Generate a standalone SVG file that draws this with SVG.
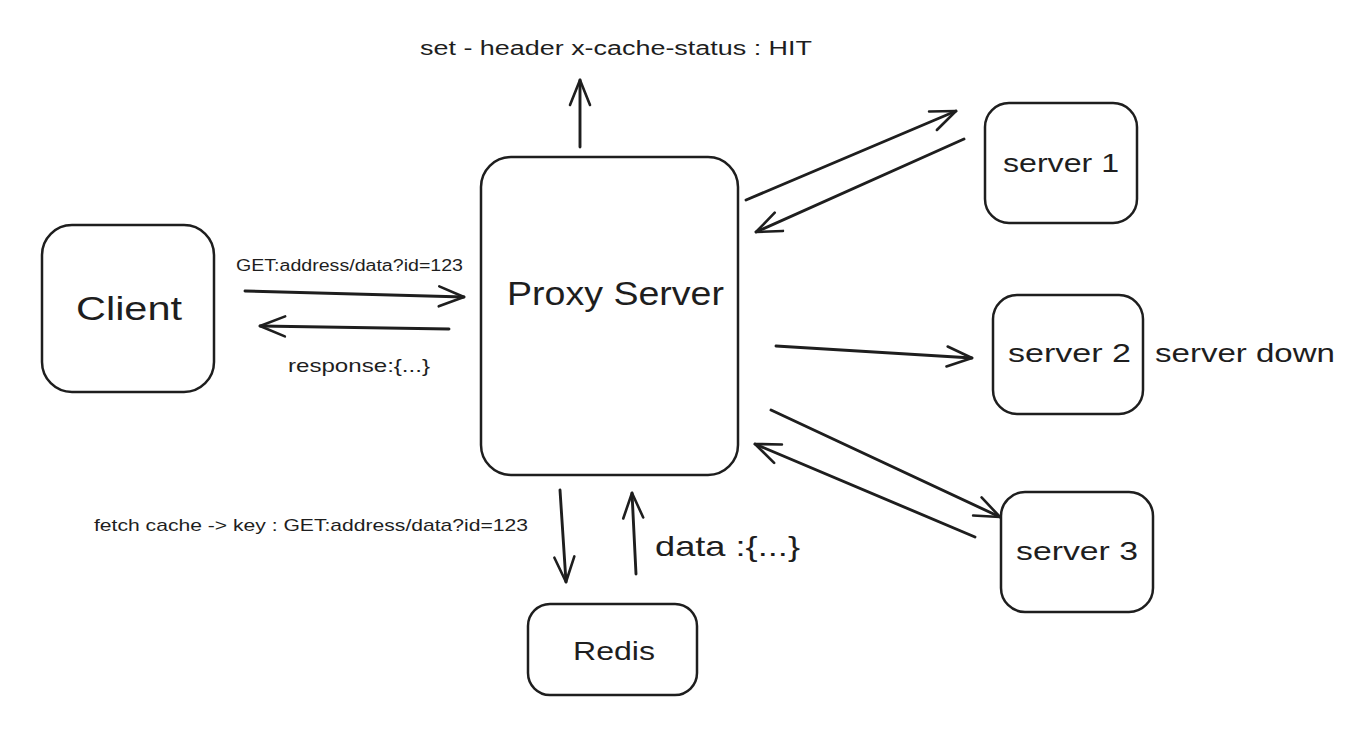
<svg xmlns="http://www.w3.org/2000/svg" width="1368" height="732" viewBox="0 0 1368 732">
<style>
.box{fill:#ffffff;stroke:#1e1e1e;stroke-width:2.5}
.lbl{font-family:"Liberation Sans","Noto Sans",sans-serif;fill:#1e1e1e}
.conn{fill:none;stroke:#1e1e1e;stroke-width:2.9;stroke-linecap:round}
</style>
<defs>
<marker id="arr" viewBox="-30 -15 34 30" refX="0" refY="0" markerWidth="34" markerHeight="30" markerUnits="userSpaceOnUse" orient="auto">
<path d="M -25 -10 L 0 0 L -25 10" fill="none" stroke="#1e1e1e" stroke-width="2.6" stroke-linecap="round" stroke-linejoin="round"/>
</marker>
</defs>
<rect width="1368" height="732" fill="#ffffff"/>

<g id="connectors">
<path class="conn" d="M 580 147 L 580 80" marker-end="url(#arr)"/>
<path class="conn" d="M 245 291 L 464 297" marker-end="url(#arr)"/>
<path class="conn" d="M 449 329 L 260 326" marker-end="url(#arr)"/>
<path class="conn" d="M 746 200 L 956 111" marker-end="url(#arr)"/>
<path class="conn" d="M 964 139 L 756 232" marker-end="url(#arr)"/>
<path class="conn" d="M 776 346 L 972 358" marker-end="url(#arr)"/>
<path class="conn" d="M 771 410 L 1000 517" marker-end="url(#arr)"/>
<path class="conn" d="M 975 537 L 755 444" marker-end="url(#arr)"/>
<path class="conn" d="M 560 490 L 566 582" marker-end="url(#arr)"/>
<path class="conn" d="M 636 574 L 632 493" marker-end="url(#arr)"/>
</g>

<g id="labels">
<text class="lbl" x="420" y="55" font-size="20" textLength="392" lengthAdjust="spacingAndGlyphs">set - header x-cache-status : HIT</text>
<text class="lbl" x="236" y="271" font-size="16" textLength="227" lengthAdjust="spacingAndGlyphs">GET:address/data?id=123</text>
<text class="lbl" x="288" y="372" font-size="19" textLength="142" lengthAdjust="spacingAndGlyphs">response:{...}</text>
<text class="lbl" x="94" y="531" font-size="17" textLength="434" lengthAdjust="spacingAndGlyphs">fetch cache -&gt; key : GET:address/data?id=123</text>
<text class="lbl" x="655" y="556" font-size="28" textLength="145" lengthAdjust="spacingAndGlyphs">data :{...}</text>
<text class="lbl" x="1155" y="362" font-size="25" textLength="180" lengthAdjust="spacingAndGlyphs">server down</text>
</g>

<g id="client">
<rect class="box" x="42" y="225" width="172" height="167" rx="30"/>
<text class="lbl" x="76" y="320" font-size="34" textLength="106" lengthAdjust="spacingAndGlyphs">Client</text>
</g>

<g id="proxy">
<rect class="box" x="481" y="157" width="257" height="318" rx="30"/>
<text class="lbl" x="507" y="305" font-size="33" textLength="217" lengthAdjust="spacingAndGlyphs">Proxy Server</text>
</g>

<g id="server1">
<rect class="box" x="985" y="103" width="152" height="120" rx="24"/>
<text class="lbl" x="1003" y="172" font-size="25" textLength="116" lengthAdjust="spacingAndGlyphs">server 1</text>
</g>

<g id="server2">
<rect class="box" x="993" y="295" width="150" height="119" rx="24"/>
<text class="lbl" x="1008" y="362" font-size="25" textLength="123" lengthAdjust="spacingAndGlyphs">server 2</text>
</g>

<g id="server3">
<rect class="box" x="1001" y="492" width="152" height="120" rx="24"/>
<text class="lbl" x="1016" y="560" font-size="25" textLength="122" lengthAdjust="spacingAndGlyphs">server 3</text>
</g>

<g id="redis">
<rect class="box" x="528" y="604" width="169" height="91" rx="22"/>
<text class="lbl" x="573" y="660" font-size="25" textLength="82" lengthAdjust="spacingAndGlyphs">Redis</text>
</g>
</svg>
